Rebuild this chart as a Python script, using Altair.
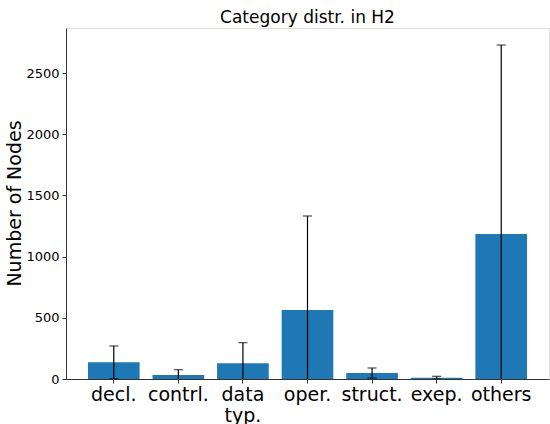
import altair as alt
import pandas as pd

# Node counts per category: mean bar height and standard deviation
categories = ["decl.", "contrl.", "data\ntyp.", "oper.", "struct.", "exep.", "others"]
means = [136, 33, 128, 564, 49, 11, 1185]
stds = [134, 43, 169, 768, 41, 11, 1544]

df = pd.DataFrame({"category": categories, "mean": means, "std": stds})
df["lo"] = df["mean"] - df["std"]
df["hi"] = df["mean"] + df["std"]

FONT = "DejaVu Sans"
y_scale = alt.Scale(domain=[0, 2868], nice=False, zero=True)
x_enc = alt.X(
    "category:N",
    sort=categories,
    scale=alt.Scale(paddingInner=0.2, paddingOuter=0.34),
    axis=alt.Axis(
        title=None,
        labelAngle=0,
        labelFont=FONT,
        labelFontSize=19,
        labelColor="black",
        labelExpr="split(datum.label, '\\n')",
        labelLineHeight=21,
        tickSize=4,
        tickColor="#333",
        domainColor="#333",
        labelPadding=2,
    ),
)

bars = alt.Chart(df).mark_bar(color="#1f77b4").encode(
    x=x_enc,
    y=alt.Y(
        "mean:Q",
        scale=y_scale,
        axis=alt.Axis(
            title="Number of Nodes",
            titleFont=FONT,
            titleFontSize=19,
            titleFontWeight="normal",
            titleColor="black",
            titleX=-42,
            titleY=175,
            titleAngle=-90,
            titleAlign="center",
            values=[0, 500, 1000, 1500, 2000, 2500],
            format="d",
            labelFont=FONT,
            labelFontSize=13,
            labelColor="black",
            tickSize=4,
            tickColor="#333",
            domainColor="#333",
            grid=False,
            labelPadding=3,
        ),
    ),
)

err = alt.Chart(df).mark_rule(color="black", strokeWidth=1.2, clip=True).encode(
    x=alt.X("category:N", sort=categories),
    y=alt.Y("lo:Q", scale=y_scale),
    y2="hi:Q",
)

caps_hi = alt.Chart(df).mark_tick(
    color="black", thickness=1.2, size=9, orient="horizontal", clip=True
).encode(x=alt.X("category:N", sort=categories), y=alt.Y("hi:Q", scale=y_scale))

caps_lo = alt.Chart(df).mark_tick(
    color="black", thickness=1.2, size=9, orient="horizontal", clip=True
).encode(x=alt.X("category:N", sort=categories), y=alt.Y("lo:Q", scale=y_scale))

chart = (
    alt.layer(bars, err, caps_hi, caps_lo)
    .properties(
        width=483,
        height=351,
        title=alt.TitleParams(
            "Category distr. in H2",
            font=FONT,
            fontSize=17,
            fontWeight="normal",
            color="black",
            offset=1,
        ),
        autosize=alt.AutoSizeParams(type="none"),
        padding={"left": 66, "top": 28, "right": 1, "bottom": 45},
    )
    .configure_view(stroke="#333", strokeWidth=1)
    .configure(background="white")
)

chart.save("out.html", embed_options={"renderer": "svg", "actions": False})
